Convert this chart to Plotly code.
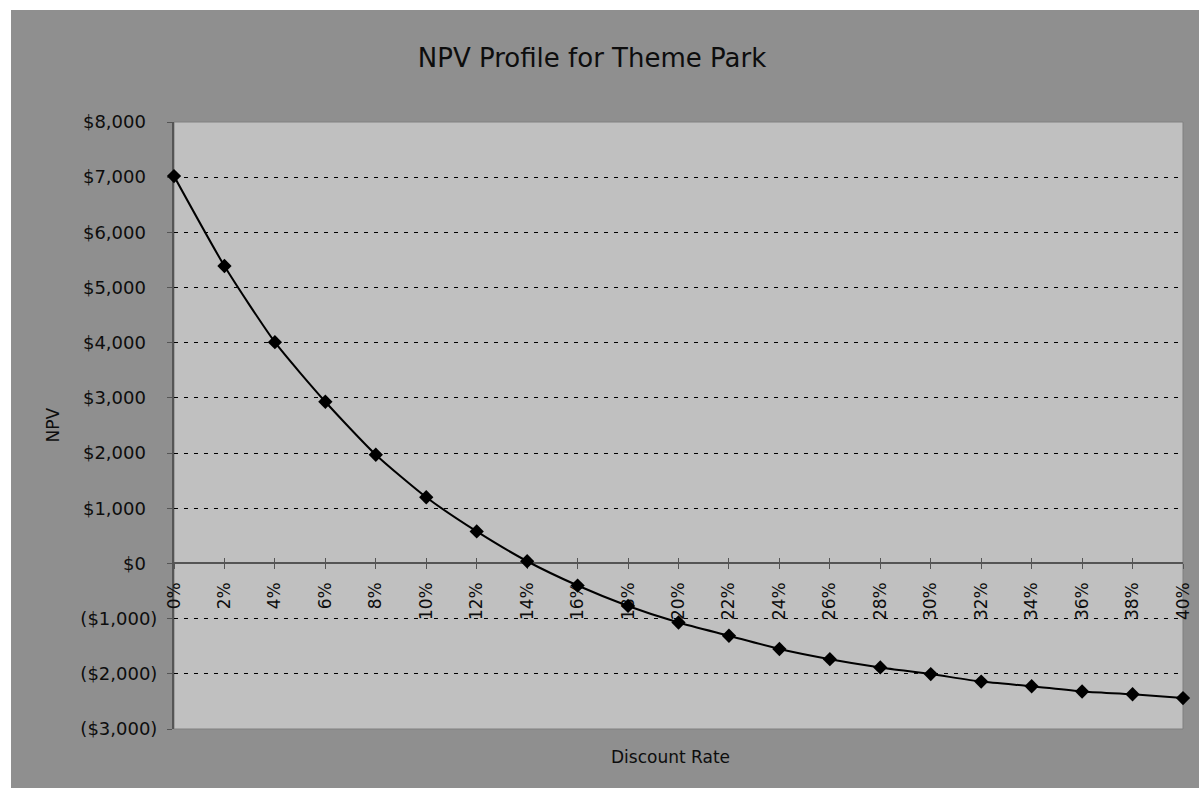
import plotly.graph_objects as go

# Discount rates and the project's NPV at each rate
rates = [0.00, 0.02, 0.04, 0.06, 0.08, 0.10, 0.12, 0.14, 0.16, 0.18, 0.20,
         0.22, 0.24, 0.26, 0.28, 0.30, 0.32, 0.34, 0.36, 0.38, 0.40]
npv = [7020, 5390, 4010, 2930, 1970, 1200, 580, 40, -400, -770, -1070,
       -1310, -1550, -1735, -1885, -2005, -2140, -2225, -2320, -2370, -2440]

x_ticks = rates
x_labels = [f"{round(r * 100)}%" for r in rates]
y_ticks = list(range(-3000, 9000, 1000))


def money(v):
    if v < 0:
        return f"(${abs(v):,})"
    if v == 0:
        return "$0\u00a0\u00a0"
    return f"${v:,}\u00a0\u00a0"


y_labels = [money(v) for v in y_ticks]

FONT = "DejaVu Sans, Verdana, sans-serif"
AXIS_GRAY = "#555555"
TEXT = "#0d0d0d"
PLOT_W = 1199 - 174 - 16

fig = go.Figure()
fig.add_trace(go.Scatter(
    x=rates, y=npv, mode="lines+markers",
    line=dict(color="black", width=2, shape="spline", smoothing=0.6),
    marker=dict(symbol="diamond", size=11, color="black"),
    cliponaxis=False, showlegend=False, hoverinfo="x+y",
))
# carrier trace for the overlaid axis that draws the upper half of the tick marks
fig.add_trace(go.Scatter(x=[0, 0.4], y=[None, None], xaxis="x2",
                         showlegend=False, hoverinfo="skip"))

y0_pos = 3000 / 11000  # where $0 sits inside the plot height

fig.update_layout(
    width=1199, height=788,
    margin=dict(l=174, r=16, t=122, b=59),
    paper_bgcolor="#8f8f8f",
    plot_bgcolor="#c0c0c0",
    font=dict(family=FONT, color=TEXT, size=17),
    title=dict(text="NPV Profile for Theme Park", x=592 / 1199, xanchor="center",
               y=1 - 58 / 788, yanchor="middle",
               font=dict(family=FONT, size=26, color=TEXT)),
    xaxis=dict(
        range=[0, 0.40], anchor="free", position=y0_pos, automargin=False,
        tickvals=x_ticks, ticktext=x_labels, tickangle=-90,
        ticks="outside", ticklen=5, tickcolor=AXIS_GRAY, tickwidth=1,
        showline=True, linecolor=AXIS_GRAY, linewidth=2,
        showgrid=False, zeroline=False, layer="below traces",
        ticklabelstandoff=6,
        tickfont=dict(family=FONT, size=17, color=TEXT),
    ),
    xaxis2=dict(
        range=[0, 0.40], overlaying="x", anchor="free", position=y0_pos,
        automargin=False,
        tickvals=x_ticks, ticks="inside", ticklen=5, tickcolor=AXIS_GRAY,
        tickwidth=1, showticklabels=False, showline=False, showgrid=False,
        zeroline=False, layer="below traces",
    ),
    yaxis=dict(
        range=[-3000, 8000], tickvals=y_ticks, ticktext=y_labels,
        automargin=False,
        ticks="outside", ticklen=5, tickcolor=AXIS_GRAY,
        showline=True, linecolor=AXIS_GRAY, linewidth=2,
        showgrid=True, gridcolor="black", gridwidth=1, griddash="4px,6px",
        zeroline=False, layer="below traces",
        ticklabelstandoff=6,
        tickfont=dict(family=FONT, size=18, color=TEXT),
    ),
    shapes=[
        # outer white margin strips around the chart area
        dict(type="rect", xref="paper", yref="paper",
             x0=-0.2, x1=(11 - 174) / PLOT_W, y0=-0.2, y1=1.3,
             fillcolor="white", line=dict(width=0), layer="above"),
        dict(type="rect", xref="paper", yref="paper",
             x0=-0.2, x1=1.1, y0=(729 - 10) / 607, y1=1.3,
             fillcolor="white", line=dict(width=0), layer="above"),
        # plot area border
        dict(type="rect", xref="paper", yref="paper", x0=0, x1=1, y0=0, y1=1,
             line=dict(color="#808080", width=1), layer="below"),
    ],
    annotations=[
        dict(text="NPV", xref="paper", yref="paper",
             x=(52 - 174) / PLOT_W, y=0.5, textangle=-90, showarrow=False,
             xanchor="center", yanchor="middle",
             font=dict(family=FONT, size=17, color=TEXT)),
        dict(text="Discount Rate", xref="paper", yref="paper",
             x=(670 - 174) / PLOT_W, y=(729 - 757) / 607, showarrow=False,
             xanchor="center", yanchor="middle",
             font=dict(family=FONT, size=17, color=TEXT)),
    ],
)

fig.write_html("out.html")
